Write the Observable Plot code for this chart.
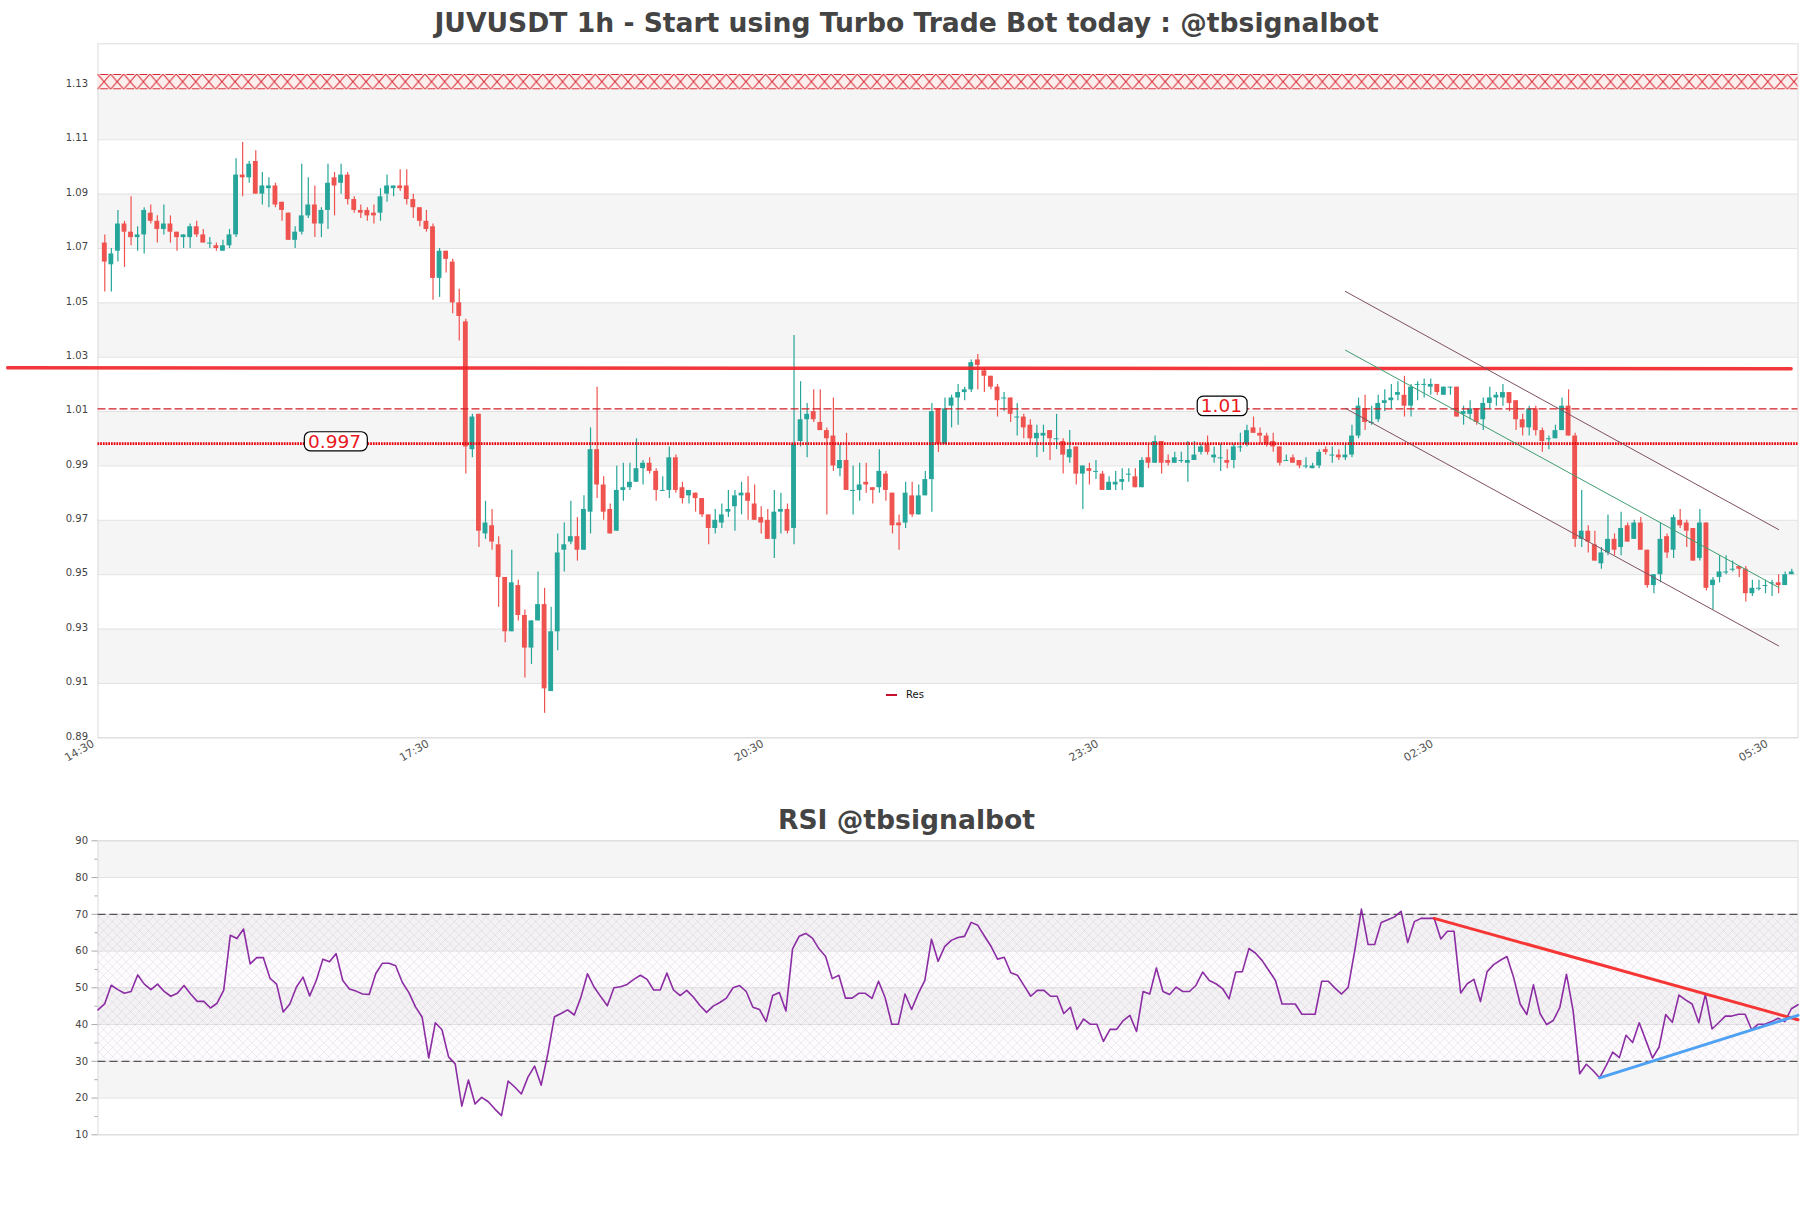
<!DOCTYPE html>
<html>
<head>
<meta charset="utf-8">
<script src="https://cdn.jsdelivr.net/npm/d3@7"></script>
<script src="https://cdn.jsdelivr.net/npm/@observablehq/plot@0.6"></script>
<style>
html,body{margin:0;padding:0;background:#fff;}
#page{position:relative;width:1811px;height:1208px;overflow:hidden;font-family:"DejaVu Sans",sans-serif;}
.panel{position:absolute;left:0;}
.title{position:absolute;left:1px;width:1811px;text-align:center;font-weight:bold;font-size:26.6px;color:#444;line-height:30px;}
#legend{position:absolute;left:886px;top:688px;font-size:10px;color:#111;line-height:13px;white-space:nowrap;}
#legend i{display:inline-block;width:11px;height:2px;background:#c8102e;vertical-align:middle;margin-right:9px;}
</style>
</head>
<body>
<svg width="0" height="0" style="position:absolute">
  <defs>
    <pattern id="resHatch" patternUnits="userSpaceOnUse" width="13.1" height="15.3" patternTransform="translate(97.5 74)">
      <rect width="13.1" height="15.3" fill="#fdeeee"/>
      <path d="M0 0L13.1 15.3M13.1 0L0 15.3M2.6 .5H10.5M2.6 14.8H10.5" stroke="#d5202a" stroke-width="1" fill="none"/>
    </pattern>
    <pattern id="rsiHatch" patternUnits="userSpaceOnUse" width="9" height="9">
      <rect width="9" height="9" fill="#8040a0" fill-opacity="0.02"/>
      <path d="M0 0L9 9M9 0L0 9" stroke="#a79ab5" stroke-opacity="0.3" stroke-width="0.6" fill="none"/>
    </pattern>
  </defs>
</svg>
<div id="page">
  <div class="title" style="top:8px">JUVUSDT 1h - Start using Turbo Trade Bot today : @tbsignalbot</div>
  <div class="title" style="top:805px">RSI @tbsignalbot</div>
  <div id="legend"><i></i>Res</div>
</div>
<script>
const opens = [
1.072,1.064,1.069,1.079,1.076,1.074,1.075,1.083,1.080,1.077,
1.079,1.076,1.074,1.074,1.078,1.075,1.072,1.071,1.069,1.071,
1.075,1.097,1.096,1.102,1.090,1.092,1.093,1.087,1.083,1.073,
1.076,1.082,1.086,1.079,1.084,1.096,1.094,1.097,1.088,1.084,
1.084,1.083,1.083,1.090,1.092,1.093,1.093,1.088,1.085,1.080,
1.078,1.059,1.069,1.065,1.050,1.043,0.996,1.009,0.965,0.968,
0.961,0.949,0.929,0.946,0.935,0.923,0.933,0.939,0.907,0.929,
0.959,0.962,0.964,0.959,0.973,0.996,0.983,0.974,0.966,0.981,
0.982,0.984,0.989,0.991,0.988,0.981,0.981,0.993,0.982,0.979,
0.980,0.978,0.972,0.967,0.969,0.973,0.975,0.979,0.980,0.976,
0.971,0.970,0.963,0.973,0.974,0.967,0.999,1.007,1.010,1.006,
1.003,1.001,0.989,0.992,0.981,0.981,0.984,0.982,0.982,0.987,
0.980,0.969,0.969,0.979,0.972,0.979,0.985,1.011,0.998,1.012,
1.015,1.017,1.018,1.029,1.025,1.023,1.019,1.015,1.015,1.008,
1.008,1.005,1.000,1.001,1.003,1.000,0.999,0.993,0.997,0.987,
0.989,0.988,0.987,0.981,0.983,0.984,0.987,0.986,0.982,0.993,
0.991,0.999,0.992,0.991,0.992,0.991,0.992,0.995,0.998,0.993,
0.993,0.992,0.992,0.997,0.998,1.004,1.002,1.001,0.999,0.997,
0.992,0.993,0.992,0.990,0.989,0.990,0.996,0.994,0.994,0.993,
0.994,1.001,1.011,1.006,1.007,1.013,1.014,1.016,1.016,1.012,
1.020,1.020,1.019,1.020,1.016,1.019,1.019,1.009,1.009,1.011,
1.007,1.013,1.015,1.015,1.017,1.014,1.007,1.004,1.011,1.003,
1.000,1.000,1.003,1.012,1.001,0.963,0.966,0.961,0.954,0.958,
0.963,0.960,0.968,0.963,0.969,0.959,0.946,0.950,0.964,0.959,
0.970,0.969,0.967,0.956,0.969,0.946,0.949,0.951,0.952,0.953,
0.952,0.943,0.945,0.946,0.947,0.947,0.946,0.950];
const highs = [
1.075,1.070,1.084,1.080,1.089,1.078,1.085,1.086,1.082,1.086,
1.082,1.076,1.075,1.079,1.080,1.077,1.074,1.072,1.073,1.077,
1.103,1.109,1.102,1.106,1.098,1.096,1.094,1.087,1.083,1.078,
1.101,1.096,1.093,1.085,1.101,1.098,1.101,1.098,1.089,1.086,
1.085,1.086,1.092,1.097,1.093,1.099,1.099,1.090,1.085,1.084,
1.079,1.070,1.069,1.066,1.055,1.044,1.009,1.009,0.977,0.974,
0.964,0.949,0.959,0.948,0.937,0.933,0.951,0.945,0.938,0.965,
0.969,0.977,0.971,0.979,1.004,1.019,0.986,0.976,0.990,0.991,
0.991,1.000,0.992,0.993,0.989,0.986,0.997,0.994,0.984,0.981,
0.980,0.978,0.972,0.974,0.976,0.981,0.981,0.984,0.986,0.983,
0.975,0.974,0.981,0.980,0.976,1.038,1.021,1.013,1.018,1.018,
1.004,1.015,0.998,1.002,0.990,0.991,0.991,0.982,0.996,0.988,
0.980,0.972,0.984,0.984,0.983,0.988,1.013,1.011,1.015,1.016,
1.020,1.019,1.029,1.031,1.026,1.023,1.020,1.017,1.015,1.013,
1.009,1.007,1.005,1.005,1.003,1.009,1.000,1.003,0.997,0.990,
0.991,0.992,0.988,0.986,0.988,0.989,0.989,0.989,0.993,0.998,
1.001,0.999,0.994,0.995,0.995,0.999,0.999,0.998,1.001,0.997,
0.998,0.996,0.998,1.002,1.005,1.008,1.004,1.002,1.002,0.997,
0.994,0.994,0.992,0.993,0.991,0.996,0.997,0.997,0.996,0.998,
1.005,1.015,1.016,1.012,1.016,1.018,1.020,1.021,1.023,1.020,
1.021,1.022,1.022,1.020,1.019,1.019,1.019,1.012,1.014,1.011,
1.015,1.019,1.017,1.020,1.017,1.014,1.009,1.012,1.012,1.004,
1.001,1.005,1.015,1.018,1.002,0.981,0.968,0.966,0.960,0.972,
0.965,0.973,0.969,0.970,0.971,0.959,0.950,0.969,0.965,0.972,
0.974,0.970,0.967,0.974,0.969,0.949,0.957,0.957,0.955,0.953,
0.953,0.948,0.948,0.948,0.948,0.950,0.951,0.952];
const lows = [
1.054,1.054,1.065,1.063,1.071,1.069,1.068,1.079,1.072,1.075,
1.072,1.069,1.070,1.070,1.074,1.072,1.070,1.069,1.069,1.070,
1.074,1.089,1.094,1.090,1.086,1.085,1.085,1.080,1.073,1.070,
1.075,1.081,1.074,1.074,1.077,1.082,1.090,1.086,1.083,1.081,
1.080,1.079,1.080,1.087,1.089,1.091,1.086,1.081,1.078,1.076,
1.051,1.052,1.061,1.046,1.036,0.987,0.993,0.960,0.963,0.959,
0.938,0.925,0.929,0.933,0.912,0.917,0.933,0.899,0.907,0.922,
0.951,0.961,0.955,0.959,0.965,0.978,0.970,0.965,0.966,0.977,
0.981,0.984,0.983,0.987,0.977,0.981,0.978,0.980,0.976,0.976,
0.973,0.971,0.961,0.965,0.967,0.971,0.966,0.972,0.970,0.970,
0.965,0.963,0.956,0.965,0.965,0.961,0.997,0.993,1.006,1.003,
0.972,0.988,0.986,0.981,0.972,0.977,0.980,0.976,0.980,0.977,
0.965,0.959,0.967,0.971,0.972,0.979,0.973,0.995,0.998,1.004,
1.005,1.014,1.017,1.018,1.017,1.018,1.008,1.010,1.006,1.001,
1.000,0.998,0.993,0.995,0.992,0.996,0.987,0.991,0.983,0.974,
0.983,0.985,0.981,0.981,0.981,0.981,0.984,0.982,0.982,0.989,
0.991,0.987,0.990,0.991,0.991,0.984,0.992,0.994,0.994,0.991,
0.988,0.989,0.989,0.995,0.997,1.002,0.998,0.997,0.995,0.990,
0.992,0.991,0.989,0.989,0.989,0.989,0.994,0.991,0.992,0.992,
0.993,1.000,1.003,1.005,1.006,1.010,1.011,1.014,1.008,1.008,
1.014,1.015,1.016,1.016,1.016,1.016,1.008,1.005,1.007,1.005,
1.003,1.011,1.012,1.012,1.010,1.003,1.001,1.001,1.001,0.995,
0.996,1.000,1.003,1.001,0.960,0.960,0.958,0.955,0.952,0.957,
0.957,0.957,0.962,0.963,0.959,0.945,0.943,0.947,0.956,0.956,
0.967,0.960,0.955,0.955,0.944,0.937,0.947,0.950,0.951,0.949,
0.940,0.942,0.944,0.943,0.942,0.943,0.946,0.950];
const closes = [
1.065,1.068,1.079,1.076,1.074,1.075,1.084,1.080,1.077,1.079,
1.076,1.074,1.075,1.078,1.075,1.072,1.072,1.070,1.071,1.075,
1.097,1.096,1.101,1.090,1.093,1.093,1.086,1.084,1.073,1.076,
1.082,1.086,1.079,1.084,1.094,1.093,1.097,1.088,1.084,1.083,
1.082,1.082,1.089,1.093,1.093,1.092,1.088,1.085,1.080,1.077,
1.059,1.069,1.066,1.050,1.045,0.997,1.008,0.966,0.969,0.962,
0.949,0.929,0.947,0.935,0.923,0.933,0.939,0.908,0.929,0.958,
0.961,0.964,0.959,0.974,0.996,0.983,0.973,0.965,0.981,0.982,
0.984,0.989,0.991,0.988,0.981,0.981,0.993,0.981,0.978,0.981,
0.978,0.972,0.967,0.970,0.972,0.974,0.979,0.980,0.977,0.970,
0.969,0.963,0.973,0.974,0.966,0.998,1.007,1.009,1.007,1.003,
1.000,0.990,0.992,0.981,0.981,0.983,0.983,0.981,0.988,0.981,
0.968,0.968,0.980,0.972,0.979,0.985,1.010,0.998,1.011,1.015,
1.017,1.018,1.028,1.027,1.023,1.019,1.014,1.015,1.009,1.008,
1.004,1.000,1.002,1.002,1.000,1.000,0.994,0.996,0.987,0.990,
0.988,0.988,0.981,0.984,0.984,0.985,0.987,0.982,0.992,0.991,
0.999,0.991,0.991,0.993,0.992,0.992,0.994,0.997,0.995,0.994,
0.993,0.991,0.997,0.997,1.003,1.002,1.001,0.998,0.997,0.991,
0.992,0.991,0.990,0.990,0.990,0.995,0.995,0.994,0.993,0.994,
1.001,1.012,1.006,1.006,1.013,1.014,1.015,1.017,1.012,1.019,
1.020,1.020,1.020,1.017,1.019,1.019,1.008,1.010,1.011,1.006,
1.013,1.015,1.016,1.017,1.013,1.007,1.004,1.011,1.003,0.999,
1.000,1.003,1.012,1.001,0.963,0.966,0.962,0.955,0.958,0.963,
0.959,0.967,0.962,0.969,0.959,0.946,0.950,0.963,0.958,0.971,
0.968,0.966,0.955,0.969,0.945,0.948,0.951,0.951,0.952,0.952,
0.943,0.945,0.945,0.946,0.947,0.946,0.950,0.951];
const rsiValues = [
44,45.6,50.7,49.5,48.5,49,53.5,51,49.5,51,
49,47.7,48.5,50.6,48.3,46.3,46.3,44.5,45.8,49.3,
64.3,63.4,66,56.5,58.2,58.2,52.6,51,43.4,45.6,
50.2,52.9,47.8,52,57.8,57.1,59.3,52,49.7,49.1,
48.3,48.2,53.9,56.7,56.7,56,51.5,48.7,44.8,42,
30.9,40.5,38.6,31.2,29.3,17.8,24.9,18.4,20.2,19,
17,15.2,24.6,23,21.1,25.7,28.7,23.5,32,42.1,
43,44,42.6,47.4,53.8,50.2,47.6,45.1,50,50.3,
50.9,52.3,53.4,52.3,49.4,49.4,54,49.4,47.9,49.3,
47.5,45.2,43.3,45,46,47.2,50,50.6,49,44.7,
44.1,40.8,47.9,48.7,43.7,60.6,64,64.8,63.5,60.6,
58.5,52.5,53.4,47.2,47.2,48.5,48.5,47.1,51.8,47.3,
40.1,40.1,48.3,44.1,48.4,52,63.2,57.2,61.2,62.9,
63.7,64,67.8,67,64.1,61.3,57.8,58.3,54.1,53.4,
50.6,47.7,49.3,49.3,47.7,47.7,43,44.7,38.7,41.5,
40.1,40.1,35.4,38.7,38.7,41.1,42.5,38.1,49,48.3,
55.4,49,48.2,50.2,49,49,50.7,54.3,52,51.1,
49.8,47,54.3,54.4,60.7,59.4,57.4,54.7,52,45.6,
45.6,45.6,42.8,42.8,42.8,51.8,51.8,49.9,48.3,50.1,
60.2,71.4,61.8,61.8,67.8,68.5,69.3,70.8,62.3,68,
68.9,68.9,68.9,63.3,65.4,65.4,48.6,51.1,52.3,46.3,
54.4,56.3,57.5,58.5,52.9,45.6,42.7,50.8,43,40,
41.1,44.7,53.7,43.8,26.6,29.2,27.5,25.5,28.8,32.5,
31,37.1,35.1,40.5,35.7,30.9,33.9,42.7,40.6,48,
46.7,45.6,40.5,48.2,38.8,40.5,42.3,42.3,42.8,42.8,
38.6,40.1,40.1,40.8,41.7,40.8,44.3,45.4];

const priceTicks = [1.13,1.11,1.09,1.07,1.05,1.03,1.01,0.99,0.97,0.95,0.93,0.91,0.89];
const priceBandTops = [1.13,1.09,1.05,1.01,0.97,0.93];
const timeTicks = [-1,50,101,152,203,254];
const timeLabels = ["14:30","17:30","20:30","23:30","02:30","05:30"];
const rsiMajor = [10,20,30,40,50,60,70,80,90];
const rsiMinor = [15,25,35,45,55,65,75,85];
const rsiBandTops = [90,70,50,30];

const resLine = [{i:-14.8,p:1.0261},{i:256.9,p:1.0258}];
const channelUpper = [{i:189,p:1.0542},{i:255,p:0.9666}];
const channelMid   = [{i:189,p:1.0326},{i:255,p:0.9453}];
const channelLower = [{i:189,p:1.0112},{i:255,p:0.9238}];
const dashedLevel = 1.011;
const dottedLevel = 0.9982;
const hatchLow = 1.1284, hatchHigh = 1.134;
const priceLabels = [
  {text:"0.997",i:35.0,p:0.9989,i1:30.47,i2:40.07,p1:0.9954,p2:1.0024},
  {text:"1.01",i:170.1,p:1.0119,i1:166.5,i2:174.1,p1:1.0083,p2:1.0155}
];
const rsiDown = [{k:202,v:68.9},{k:257,v:41.3}];
const rsiUp = [{k:227,v:25.5},{k:257,v:42.5}];

const candles = opens.map((o,i)=>({i,o,h:highs[i],l:lows[i],c:closes[i]}));
const UP="#26a69a", DOWN="#ef5350";
const col = d => d.c>=d.o?UP:DOWN;
const grid="#e2e2e2", edge="#dcdcdc", grey="#f5f5f5";
const xDomain=[-1.036,257.95];

const price = Plot.plot({
  width:1811,height:800,marginLeft:97.5,marginRight:13.5,marginTop:43.3,marginBottom:62.7,
  style:{fontFamily:"DejaVu Sans",background:"transparent"},
  x:{domain:xDomain},
  y:{domain:[0.89,1.1453]},
  marks:[
    Plot.rect(priceBandTops,{x1:xDomain[0],x2:xDomain[1],y1:d=>d,y2:d=>d-0.02,fill:grey}),
    Plot.ruleY(priceTicks,{stroke:grid}),
    Plot.frame({stroke:edge}),
    Plot.rect([0],{x1:xDomain[0],x2:xDomain[1],y1:hatchLow,y2:hatchHigh,fill:"url(#resHatch)"}),
    Plot.ruleX(candles,{x:"i",y1:"l",y2:"h",stroke:col,strokeWidth:1.2}),
    Plot.rect(candles.filter(d=>d.o!==d.c),{x1:d=>d.i-0.37,x2:d=>d.i+0.37,y1:"o",y2:"c",fill:col}),
    Plot.ruleY(candles.filter(d=>d.o===d.c),{y:"c",x1:d=>d.i-0.37,x2:d=>d.i+0.37,stroke:UP,strokeWidth:1}),
    Plot.ruleY([dashedLevel],{stroke:"#d41c26",strokeWidth:1.3,strokeDasharray:"8 3"}),
    Plot.ruleY([dottedLevel],{stroke:"#e8000c",strokeWidth:2.8,strokeDasharray:"1.7 1"}),
    Plot.line(resLine,{x:"i",y:"p",stroke:"#f0252b",strokeWidth:3.5,strokeOpacity:0.92}),
    Plot.line(channelUpper,{x:"i",y:"p",stroke:"#80505f",strokeWidth:1}),
    Plot.line(channelMid,{x:"i",y:"p",stroke:"#3f9e70",strokeWidth:1}),
    Plot.line(channelLower,{x:"i",y:"p",stroke:"#80505f",strokeWidth:1}),
    Plot.rect(priceLabels,{x1:"i1",x2:"i2",y1:"p1",y2:"p2",fill:"white",stroke:"black",strokeWidth:1.2,rx:6}),
    Plot.text(priceLabels,{x:"i",y:"p",text:"text",fill:"#e8191f",fontSize:18.5}),
    Plot.axisY({ticks:priceTicks,tickFormat:d3.format(".2f"),tickSize:0,tickPadding:10,fontSize:10,color:"#444",dy:-1.5,label:null}),
    Plot.axisX({ticks:timeTicks,tickFormat:d=>timeLabels[timeTicks.indexOf(d)],tickSize:0,tickPadding:4,tickRotate:-30,fontSize:11,color:"#555",label:null,dx:-5,dy:1})
  ]
});

const rsi = Plot.plot({
  width:1811,height:408,marginLeft:97.5,marginRight:13.5,marginTop:40.3,marginBottom:73.7,
  style:{fontFamily:"DejaVu Sans",background:"transparent"},
  x:{domain:[0,257],axis:null},
  y:{domain:[10,90]},
  marks:[
    Plot.rect(rsiBandTops,{x1:0,x2:257,y1:d=>d,y2:d=>d-10,fill:grey}),
    Plot.ruleY(rsiMajor,{stroke:grid}),
    Plot.frame({stroke:edge}),
    Plot.rect([0],{x1:0,x2:257,y1:30,y2:70,fill:"url(#rsiHatch)"}),
    Plot.ruleY([30,70],{stroke:"#333",strokeWidth:1,strokeDasharray:"8 4"}),
    Plot.line(rsiValues,{x:(d,i)=>i,y:d=>d,stroke:"#86229f",strokeWidth:1.6,strokeOpacity:0.95}),
    Plot.line(rsiDown,{x:"k",y:"v",stroke:"#f52a2a",strokeWidth:3,strokeOpacity:0.95}),
    Plot.line(rsiUp,{x:"k",y:"v",stroke:"#4ea1f3",strokeWidth:3}),
    Plot.axisY({ticks:rsiMajor,tickSize:6,tickPadding:4,fontSize:10,color:"#444",stroke:"#aaa",label:null}),
    Plot.axisY({ticks:rsiMinor,tickSize:3,tickFormat:()=>"",color:"#aaa",label:null})
  ]
});

const page=document.getElementById("page");
price.classList.add("panel"); price.style.top="0px";
rsi.classList.add("panel"); rsi.style.top="800px";
page.prepend(rsi); page.prepend(price);
</script>
</body>
</html>
